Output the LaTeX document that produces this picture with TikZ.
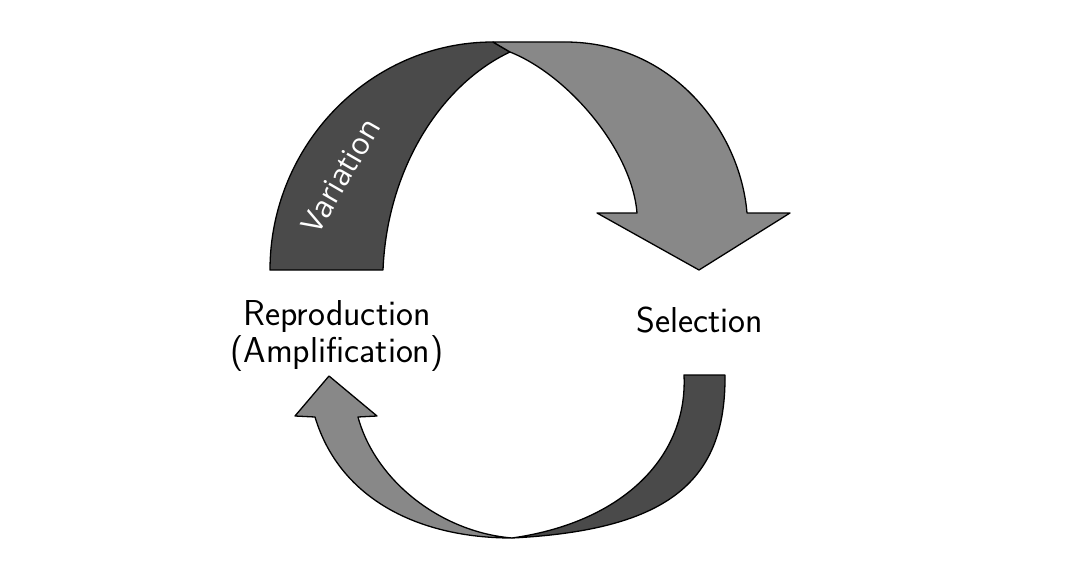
\documentclass[tikz,border=0pt]{standalone}
\usepackage{fontspec}
\newfontfamily\varfont{Open Sans}
\definecolor{darkband}{HTML}{4A4A4A}
\definecolor{lightband}{HTML}{888888}
\begin{document}
\begin{tikzpicture}[x=1pt,y=-1pt,
  band/.style={draw=black,line width=1.3pt,line join=round},
  lbl/.style={font=\sffamily\fontsize{36}{42}\selectfont,anchor=base}]
\useasboundingbox (0,0) rectangle (1085,583);
% top ribbon: dark back side
\path[band,fill=darkband] (270,270) .. controls (270,145) and (370,42) .. (493,42)
  -- (510,52) .. controls (440,85) and (387,170) .. (383,270) -- cycle;
% top ribbon: light front side with arrow head
\path[band,fill=lightband] (493,42) -- (565,42) .. controls (672,42) and (740,130) .. (747,213)
  -- (790,213) -- (699,270) -- (597,213) -- (637,213)
  .. controls (632,150) and (568,75) .. (510,52) -- cycle;
% bottom ribbon: dark side
\path[band,fill=darkband] (684,375) -- (725,375) .. controls (726,480) and (670,530) .. (512,538)
  .. controls (625,522) and (688,455) .. (684,375) -- cycle;
% bottom ribbon: light side with arrow head
\path[band,fill=lightband] (512,538) .. controls (420,538) and (340,500) .. (315,417)
  -- (295,416) -- (329,376) -- (377,416) -- (358,417)
  .. controls (375,480) and (440,532) .. (512,538) -- cycle;
% labels
\node[text=white,font=\varfont\fontsize{30}{36}\selectfont,rotate=60,anchor=base] (var) at (350,181) {Variation};
\node[lbl] (rep) at (337,325) {Reproduction};
\node[lbl] (amp) at (337,362) {(Amplification)};
\node[lbl] (sel) at (700,332) {Selection};
\end{tikzpicture}
\end{document}
